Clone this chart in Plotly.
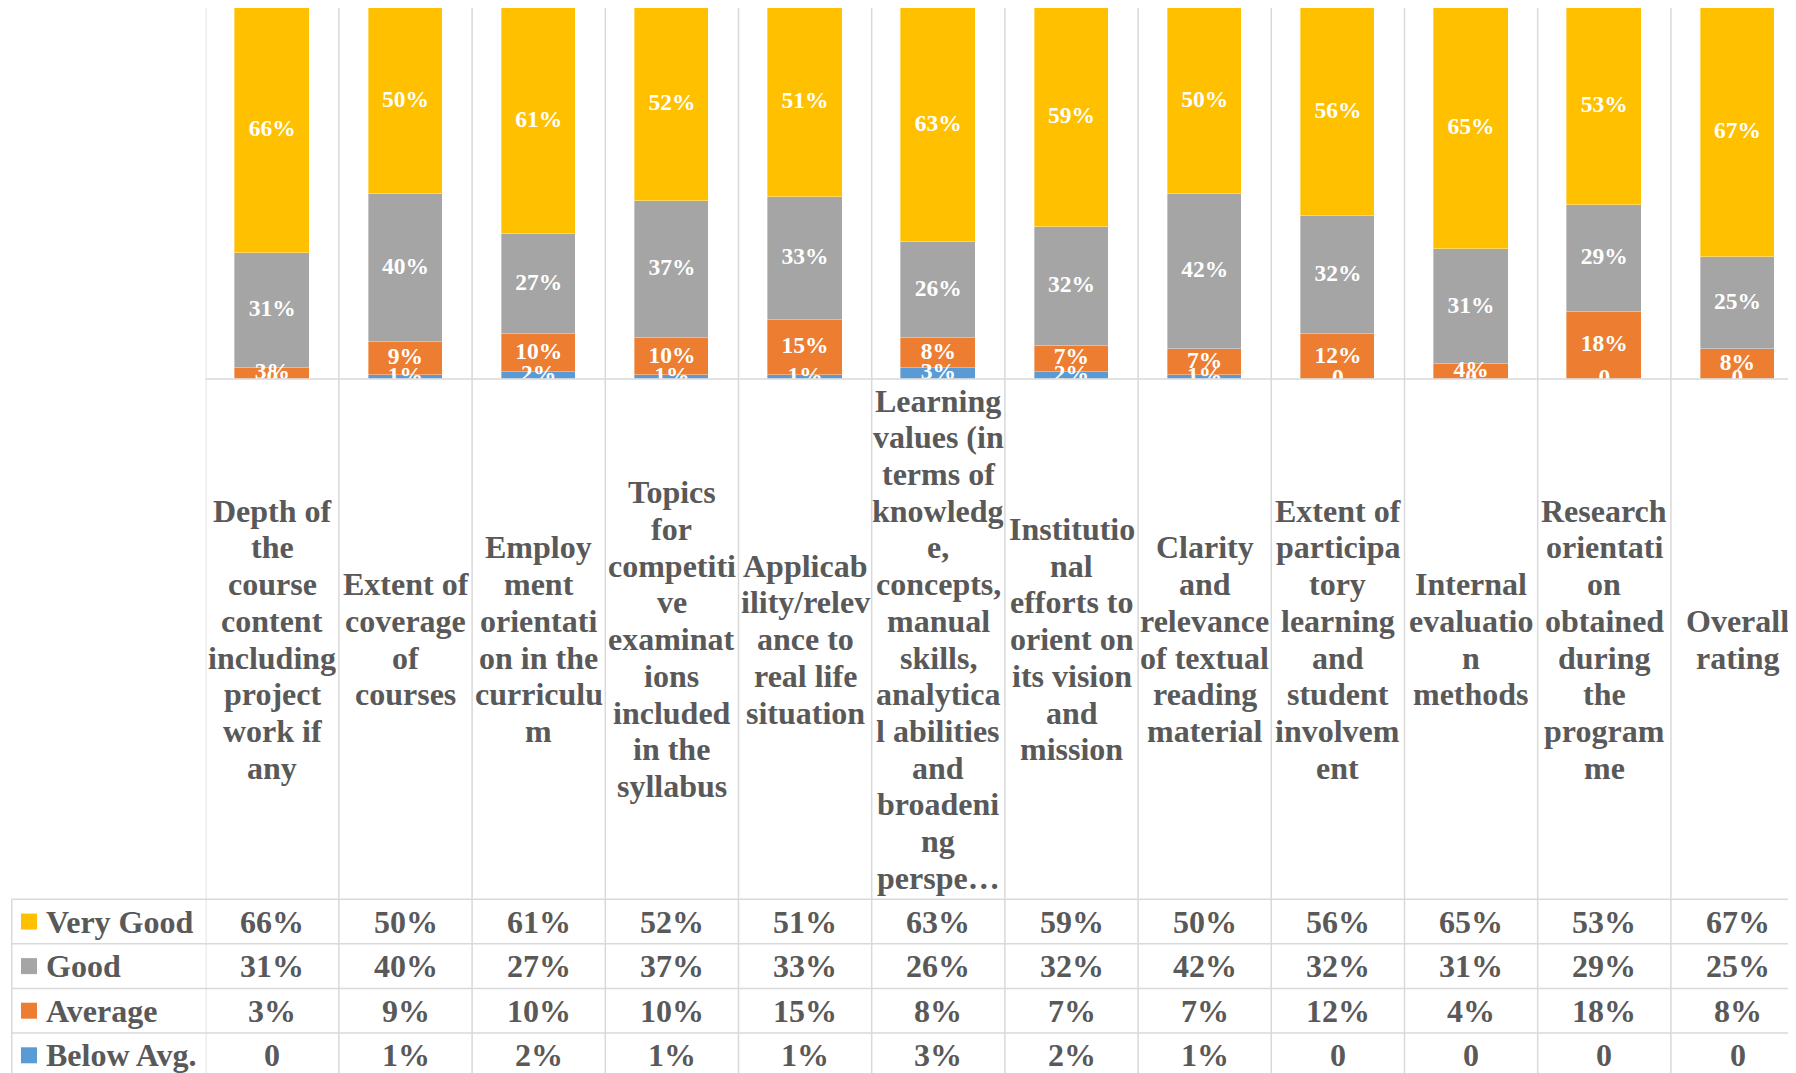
import numpy as np
import plotly.graph_objects as go

W, H = 1796, 1073
OFF = 8  # page offset of the plot div (browser body margin)

categories = [
    "Depth of the course content including project work if any",
    "Extent of coverage of courses",
    "Employment orientation in the curriculum",
    "Topics for competitive examinations included in the syllabus",
    "Applicability/relevance to real life situation",
    "Learning values (in terms of knowledge, concepts, manual skills, analytical abilities and broadening perspectives)",
    "Institutional efforts to orient on its vision and mission",
    "Clarity and relevance of textual reading material",
    "Extent of participatory learning and student involvement",
    "Internal evaluation methods",
    "Research orientation obtained during the programme",
    "Overall rating",
]

# wrapped tick labels as they appear in the table header
category_label_lines = [
    ["Depth of", "the", "course", "content", "including", "project", "work if", "any"],
    ["Extent of", "coverage", "of", "courses"],
    ["Employ", "ment", "orientati", "on in the", "curriculu", "m"],
    ["Topics", "for", "competiti", "ve", "examinat", "ions", "included", "in the", "syllabus"],
    ["Applicab", "ility/relev", "ance to", "real life", "situation"],
    ["Learning", "values (in", "terms of", "knowledg", "e,", "concepts,", "manual", "skills,",
     "analytica", "l abilities", "and", "broadeni", "ng", "perspe\u2026"],
    ["Institutio", "nal", "efforts to", "orient on", "its vision", "and", "mission"],
    ["Clarity", "and", "relevance", "of textual", "reading", "material"],
    ["Extent of", "participa", "tory", "learning", "and", "student", "involvem", "ent"],
    ["Internal", "evaluatio", "n", "methods"],
    ["Research", "orientati", "on", "obtained", "during", "the", "program", "me"],
    ["Overall", "rating"],
]

series_names = ["Very Good", "Good", "Average", "Below Avg."]
very_good = [66, 50, 61, 52, 51, 63, 59, 50, 56, 65, 53, 67]
good = [31, 40, 27, 37, 33, 26, 32, 42, 32, 31, 29, 25]
average = [3, 9, 10, 10, 15, 8, 7, 7, 12, 4, 18, 8]
below_avg = [0, 1, 2, 1, 1, 3, 2, 1, 0, 0, 0, 0]

colors = {
    "Very Good": "#FFC000",
    "Good": "#A5A5A5",
    "Average": "#ED7D31",
    "Below Avg.": "#5B9BD5",
}
series_values = {
    "Very Good": very_good,
    "Good": good,
    "Average": average,
    "Below Avg.": below_avg,
}

FONT = "Liberation Serif, Times New Roman, serif"
TXT = "#595959"
GRID = "#D9D9D9"


def fmt(v):
    return "0" if v == 0 else f"{v}%"


def px_x(x):
    return (x - OFF) / W


def px_y(y):
    return 1 - (y - OFF) / H


# geometry (screen pixels)
plot_left, plot_top, plot_bottom = 205.7, 8.0, 379.0
col_w = 133.2
table_left = 11.7
row_lines = [899.3, 943.8, 988.4, 1033.0, 1077.6]

x = list(range(len(categories)))
fig = go.Figure()

stack_order = ["Below Avg.", "Average", "Good", "Very Good"]
base = np.zeros(len(categories))
label_x, label_y, label_t = [], [], []
for name in stack_order:
    vals = np.array(series_values[name]) / 100.0
    fig.add_trace(go.Bar(
        x=x, y=vals, name=name, width=0.558,
        marker=dict(color=colors[name], line=dict(color="rgba(255,255,255,0.6)", width=0.6)),
        showlegend=False, hoverinfo="skip",
    ))
    centers = base + vals / 2
    label_x += x
    label_y += list(centers)
    label_t += [fmt(v) for v in series_values[name]]
    base = base + vals

fig.add_trace(go.Scatter(
    x=label_x, y=label_y, text=label_t, mode="text",
    textposition="middle center",
    textfont=dict(family=FONT, size=23.5, color="white", weight=700),
    cliponaxis=True, showlegend=False, hoverinfo="skip",
))

x_right = -0.5 + (W + OFF - plot_left) / col_w

fig.update_layout(
    width=W, height=H,
    margin=dict(l=0, r=0, t=0, b=0),
    paper_bgcolor="white", plot_bgcolor="white",
    barmode="stack", bargap=0,
    xaxis=dict(domain=[px_x(plot_left), 1], range=[-0.5, x_right],
               showgrid=False, zeroline=False, showticklabels=False, ticks=""),
    yaxis=dict(domain=[px_y(plot_bottom), px_y(plot_top)], range=[0, 1],
               showgrid=False, zeroline=False, showticklabels=False, ticks=""),
)

shapes = []
line = dict(color=GRID, width=1.5)
# vertical column boundaries
for i in range(len(categories)):
    shapes.append(dict(type="line", xref="x", yref="paper", x0=i - 0.5, x1=i - 0.5,
                       y0=px_y(plot_top), y1=0, line=line, layer="below"))
# baseline / top of table
shapes.append(dict(type="line", xref="paper", yref="paper", x0=px_x(plot_left), x1=1,
                   y0=px_y(plot_bottom), y1=px_y(plot_bottom), line=line))
# data table rows
for ry in row_lines[:-1]:
    shapes.append(dict(type="line", xref="paper", yref="paper", x0=px_x(table_left), x1=1,
                       y0=px_y(ry), y1=px_y(ry), line=line))
shapes.append(dict(type="line", xref="paper", yref="paper", x0=px_x(table_left), x1=px_x(table_left),
                   y0=px_y(row_lines[0]), y1=0, line=line))

annotations = []
# header labels
hdr_center = (plot_bottom + row_lines[0]) / 2
lsp = 36.7
for i, lines in enumerate(category_label_lines):
    n = len(lines)
    for j, t in enumerate(lines):
        yy = hdr_center + (j - (n - 1) / 2) * lsp
        annotations.append(dict(
            x=i, xref="x", y=px_y(yy), yref="paper", text=t, showarrow=False,
            xanchor="center", yanchor="middle",
            font=dict(family=FONT, size=32, color=TXT, weight=700),
        ))

# data table rows
for r, name in enumerate(series_names):
    cy = (row_lines[r] + row_lines[r + 1]) / 2
    shapes.append(dict(type="rect", xref="paper", yref="paper",
                       x0=px_x(21), x1=px_x(37), y0=px_y(cy - 8), y1=px_y(cy + 8),
                       fillcolor=colors[name], line=dict(width=0)))
    annotations.append(dict(
        x=px_x(44), xref="paper", y=px_y(cy), yref="paper", text=name, showarrow=False,
        xanchor="left", yanchor="middle",
        font=dict(family=FONT, size=32, color=TXT, weight=700),
    ))
    for i, v in enumerate(series_values[name]):
        annotations.append(dict(
            x=i, xref="x", y=px_y(cy), yref="paper", text=fmt(v), showarrow=False,
            xanchor="center", yanchor="middle",
            font=dict(family=FONT, size=32, color=TXT, weight=700),
        ))

fig.update_layout(shapes=shapes, annotations=annotations)
fig.write_html("out.html")
